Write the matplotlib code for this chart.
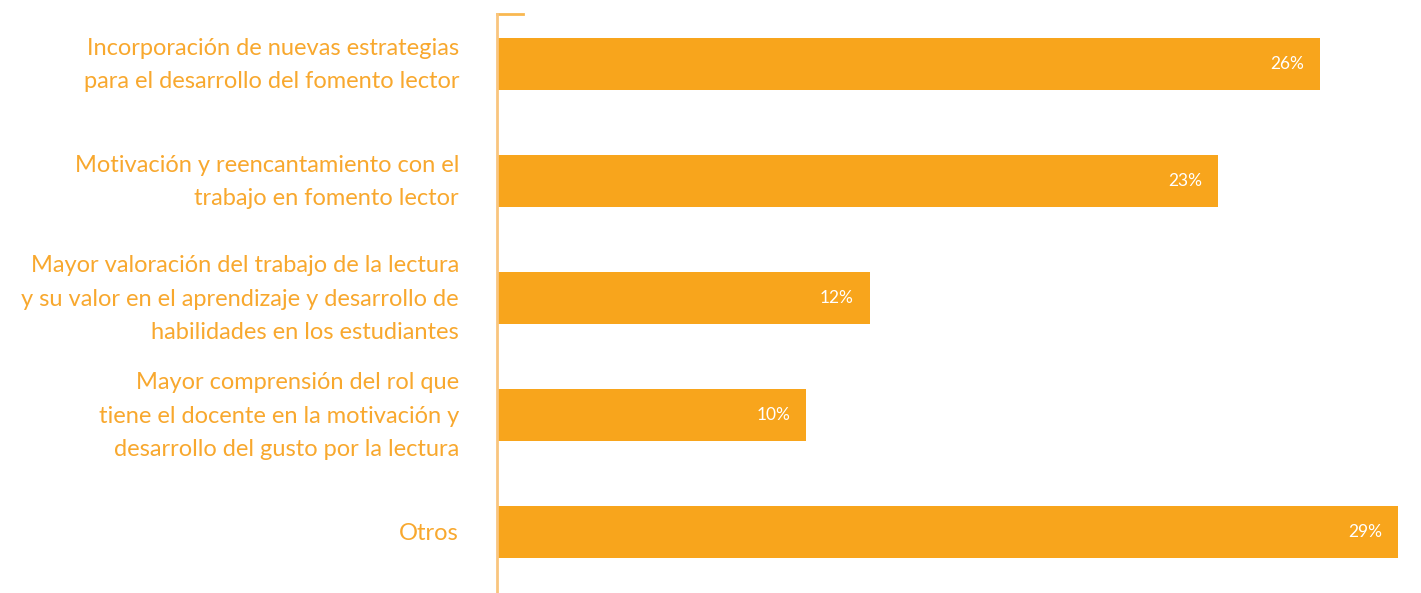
import matplotlib
matplotlib.use('Agg')
from matplotlib import pyplot as plt
from matplotlib.lines import Line2D

# datos
categorias = ['Incorporación de nuevas estrategias\npara el desarrollo del fomento lector',
              'Motivación y reencantamiento con el\ntrabajo en fomento lector',
              'Mayor valoración del trabajo de la lectura\ny su valor en el aprendizaje y desarrollo de\nhabilidades en los estudiantes',
              'Mayor comprensión del rol que\ntiene el docente en la motivación y\ndesarrollo del gusto por la lectura',
              'Otros']
valores = [26.5, 23.2, 12.0, 9.95, 29.0]
etiquetas = ['26%', '23%', '12%', '10%', '29%']

naranja = '#F8A51C'
texto_naranja = '#F8A82E'

plt.rcParams['font.family'] = ['Lato', 'DejaVu Sans']

fig = plt.figure(figsize=(14.21, 5.93), dpi=100)
ax = fig.add_axes([497 / 1421, 0, 1 - 497 / 1421, 1 - 14 / 593])

y = range(len(categorias))
ax.barh(y, valores, height=0.444, color=naranja, zorder=2)

ax.set_ylim(4.521, -0.427)
ax.set_xlim(0, 29.74)

# etiquetas de valores dentro de las barras
for i, (v, t) in enumerate(zip(valores, etiquetas)):
    ax.annotate(t, (v, i), xytext=(-16, 0), textcoords='offset pixels',
                ha='right', va='center', color='white', fontsize=12.5)

# categorias a la izquierda
for i, c in enumerate(categorias):
    ax.annotate(c, (0, i), xytext=(-38, -1), textcoords='offset pixels',
                ha='right', va='center', color=texto_naranja, fontsize=17,
                linespacing=1.72, annotation_clip=False)

for s in ['top', 'right', 'bottom']:
    ax.spines[s].set_visible(False)
ax.spines['left'].set_color('#F9C57E')
ax.spines['left'].set_linewidth(2)
ax.set_xticks([])
ax.set_yticks([])

# pequeño tope arriba del eje
ax.add_line(Line2D([0, 26 / (1421 - 497)], [1, 1], transform=ax.transAxes,
                   color='#F9B850', lw=2, clip_on=False))

plt.savefig('out.png', dpi=100)
